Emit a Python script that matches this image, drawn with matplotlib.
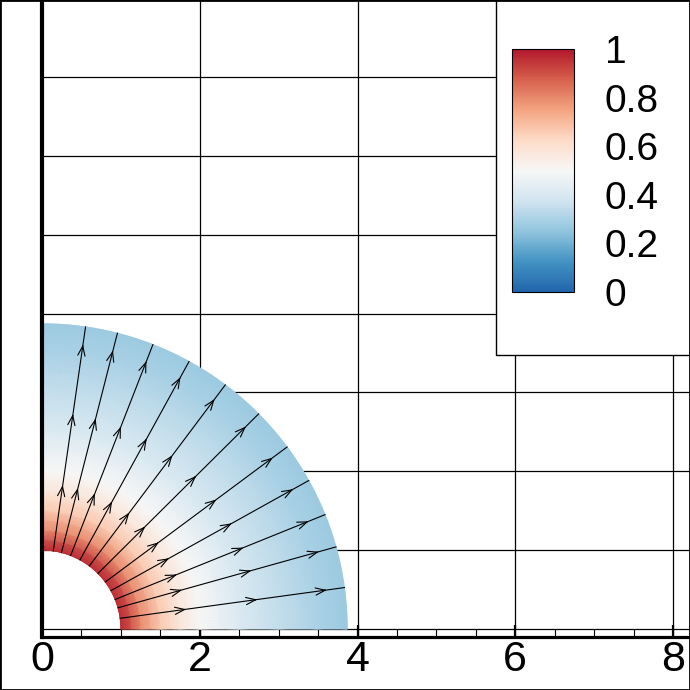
"""
Campo radial en un cuarto de anillo con líneas de corriente.
"""

import matplotlib
matplotlib.use("Agg")
import matplotlib.pyplot as plt
import numpy as np
from matplotlib.colors import LinearSegmentedColormap, Normalize
from matplotlib.cm import ScalarMappable
from matplotlib.patches import Rectangle

plt.rcParams["font.family"] = ["Liberation Sans", "DejaVu Sans"]

# --- datos -----------------------------------------------------------------
radios = [1.0, 1.25, 1.5, 1.75, 2.0, 2.5, 3.0, 3.5, 3.87]
valores = [0.97, 0.79, 0.66, 0.57, 0.50, 0.41, 0.35, 0.30, 0.27]

angulos_lineas = [7.8, 15.6, 22.0, 29.1, 36.6, 44.8, 53.1, 61.2, 68.7, 75.7, 81.8]
radio_ini, radio_fin = 1.0, 3.87
radios_flechas = [1.88, 2.79, 3.68]

ticks_x = [0, 2, 4, 6, 8]
ticks_cb = [0, 0.2, 0.4, 0.6, 0.8, 1]
etiquetas_cb = ["0", "0.2", "0.4", "0.6", "0.8", "1"]

cmap = LinearSegmentedColormap.from_list(
    "rdbu9",
    ["#2166ac", "#4393c3", "#92c5de", "#d1e5f0", "#f7f7f7",
     "#fddbc7", "#f4a582", "#d6604d", "#b2182b"],
)
norm = Normalize(0, 1)

W = 690.0
fig = plt.figure(figsize=(6.9, 6.9), dpi=100)
ax = fig.add_axes([42 / W, 53 / W, 648 / W, 637 / W])

escala = 78.875  # px por unidad
ymin = -8 / escala
ax.set_xlim(0, 648 / escala)
ax.set_ylim(ymin, ymin + 637 / escala)

# campo de color
theta = np.linspace(0, np.pi / 2, 181)
R, T = np.meshgrid(np.array(radios), theta)
C = np.broadcast_to(np.array(valores), R.shape)
ax.pcolormesh(R * np.cos(T), R * np.sin(T), C, shading="gouraud",
              cmap=cmap, norm=norm, zorder=1)

# líneas de corriente
for a in angulos_lineas:
    t = np.deg2rad(a)
    ax.plot([radio_ini * np.cos(t), radio_fin * np.cos(t)],
            [radio_ini * np.sin(t), radio_fin * np.sin(t)],
            color="black", lw=0.8, zorder=3)
    for rf in radios_flechas:
        ax.annotate("", xy=(rf * np.cos(t), rf * np.sin(t)),
                    xytext=((rf - 0.1) * np.cos(t), (rf - 0.1) * np.sin(t)),
                    arrowprops=dict(arrowstyle="->,head_length=0.35,head_width=0.13",
                                    lw=0.8, color="black", mutation_scale=20),
                    zorder=4)

# ejes y grilla
ax.set_xticks(ticks_x)
ax.set_xticks(np.arange(0, 8.01, 0.5), minor=True)
ax.set_yticks(range(0, 8))
ax.grid(True, which="major", color="black", lw=0.9)
ax.set_axisbelow(True)
ax.tick_params(axis="x", which="major", direction="in", length=9, width=1.6,
               labelsize=31, pad=2)
ax.tick_params(axis="x", which="minor", direction="in", length=6, width=0.8)
ax.tick_params(axis="y", length=0, labelleft=False)
ax.spines["top"].set_visible(False)
ax.spines["right"].set_visible(False)
ax.spines["left"].set_linewidth(3)
ax.spines["bottom"].set_linewidth(2.3)

# caja de la leyenda de color
fig.add_artist(Rectangle((496 / W, 1 - 355 / W), 0.5, 0.6, transform=fig.transFigure,
                         facecolor="white", edgecolor="black", lw=1, zorder=3))
cax = fig.add_axes([512 / W, (W - 292) / W, 62 / W, 243 / W])
cax.set_zorder(4)
cb = fig.colorbar(ScalarMappable(norm=norm, cmap=cmap), cax=cax)
cb.set_ticks(ticks_cb)
cb.set_ticklabels(etiquetas_cb)
cb.outline.set_linewidth(0.8)
cax.tick_params(length=0, labelsize=28, pad=22)

# marco exterior
fig.add_artist(Rectangle((0, 0), 1, 1, transform=fig.transFigure, fill=False,
                         edgecolor="black", lw=2, zorder=10))

fig.savefig("out.png", dpi=100)
